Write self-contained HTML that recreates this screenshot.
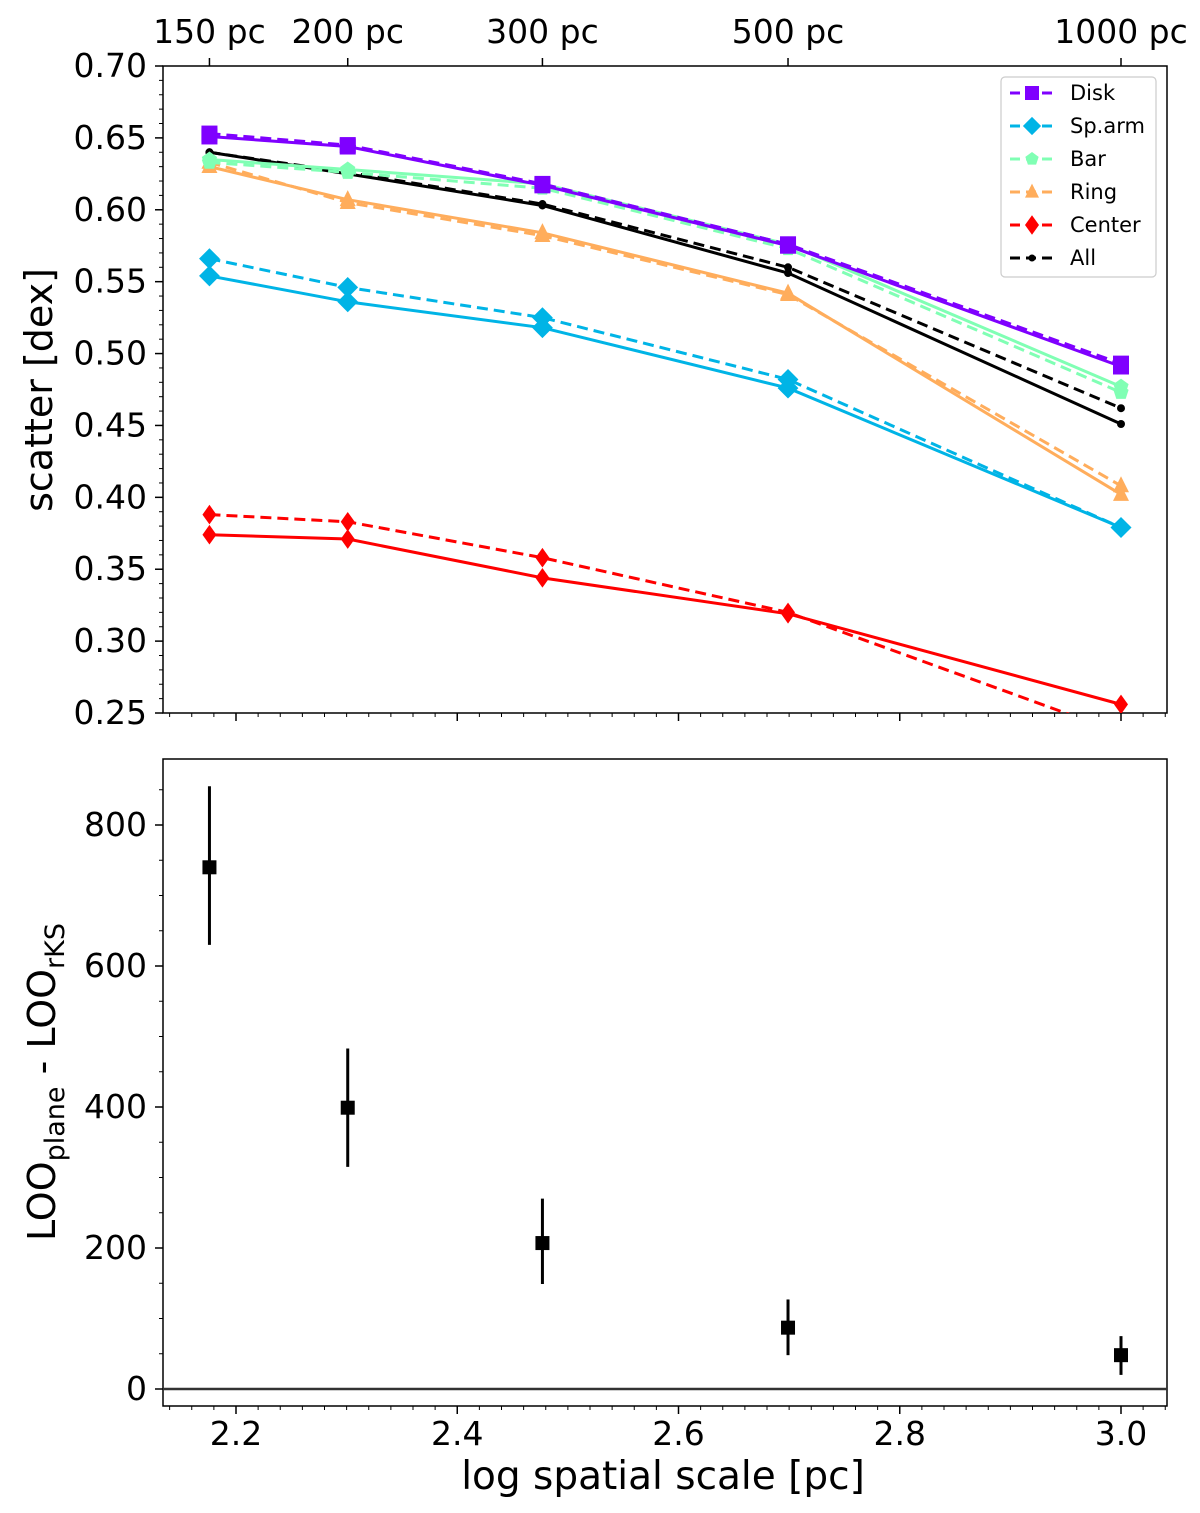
<!DOCTYPE html>
<html><head><meta charset="utf-8"><style>body{margin:0;background:#fff}svg{display:block}text{font-family:"DejaVu Sans","Liberation Sans",sans-serif;fill:#000}</style></head>
<body>
<svg id="c" width="1200" height="1513"></svg>
<script>
const xs=[2.176,2.301,2.477,2.699,3.0];
const topLabels=["150 pc","200 pc","300 pc","500 pc","1000 pc"];
const diskSolid=[0.651,0.644,0.617,0.575,0.491];
const diskDash=[0.653,0.645,0.618,0.576,0.493];
const armSolid=[0.554,0.536,0.518,0.476,0.379];
const armDash=[0.566,0.546,0.525,0.482,0.379];
const barSolid=[0.635,0.628,0.618,0.576,0.477];
const barDash=[0.633,0.626,0.615,0.573,0.473];
const ringSolid=[0.630,0.607,0.584,0.542,0.402];
const ringDash=[0.633,0.605,0.582,0.541,0.408];
const cenSolid=[0.374,0.371,0.344,0.319,0.256];
const cenDash=[0.388,0.383,0.358,0.320,0.236];
const allSolid=[0.640,0.625,0.603,0.556,0.451];
const allDash=[0.640,0.626,0.604,0.560,0.462];
const looVals=[740,399,207,87,48];
const looLo=[630,315,149,48,20];
const looHi=[855,483,270,127,75];
const yTicksTop=[0.25,0.30,0.35,0.40,0.45,0.50,0.55,0.60,0.65,0.70];
const yTicksBot=[0,200,400,600,800];
const xTicks=[2.2,2.4,2.6,2.8,3.0];

const NS="http://www.w3.org/2000/svg";
const svg=document.getElementById('c');
function el(t,a,p){const e=document.createElementNS(NS,t);for(const k in a)e.setAttribute(k,a[k]);(p||svg).appendChild(e);return e;}
const L=163,R=1167;
const X=v=>236+(v-2.2)*1106.25;
const YT=v=>66+(0.70-v)*1437.8;
const YB=v=>1389-v*0.705;

const defs=el('defs',{});
const cp=el('clipPath',{id:'cpt'},defs);el('rect',{x:L,y:66,width:R-L,height:647},cp);

const fr1=el('rect',{x:L,y:66,width:R-L,height:647,fill:'none',stroke:'#000','stroke-width':1.5});

const fr2=el('rect',{x:L,y:759,width:R-L,height:647,fill:'none',stroke:'#000','stroke-width':1.5});


yTicksTop.forEach(v=>{const y=YT(v);el('line',{x1:L-8,x2:L,y1:y,y2:y,stroke:'#000','stroke-width':1.5});
 const t=el('text',{x:L-16,y:y+11,'font-size':33,'text-anchor':'end'});t.textContent=v.toFixed(2);
 });
for(let v=0.26;v<0.70;v+=0.01){if(Math.abs(v*20-Math.round(v*20))<1e-6)continue;const y=YT(v);el('line',{x1:L-4,x2:L,y1:y,y2:y,stroke:'#000','stroke-width':1});}
xs.forEach((v,i)=>{const x=X(v);el('line',{x1:x,x2:x,y1:58,y2:66,stroke:'#000','stroke-width':1.5});
 const t=el('text',{x:x,y:43,'font-size':33,'text-anchor':'middle'});t.textContent=topLabels[i];
 });
function xTickMarks(yb){xTicks.forEach(v=>{const x=X(v);el('line',{x1:x,x2:x,y1:yb,y2:yb+8,stroke:'#000','stroke-width':1.5});});
 for(let v=2.14;v<3.05;v+=0.02){const r=Math.round(v*100);if(r%20==0)continue;const x=X(r/100);if(x<L||x>R)continue;el('line',{x1:x,x2:x,y1:yb,y2:yb+4,stroke:'#000','stroke-width':1});}}
xTickMarks(713);xTickMarks(1406);
xTicks.forEach(v=>{const t=el('text',{x:X(v),y:1445,'font-size':33,'text-anchor':'middle'});t.textContent=v.toFixed(1);
 });
yTicksBot.forEach(v=>{const y=YB(v);el('line',{x1:L-8,x2:L,y1:y,y2:y,stroke:'#000','stroke-width':1.5});
 const t=el('text',{x:L-16,y:y+11,'font-size':33,'text-anchor':'end'});t.textContent=v;
 });
for(let v=0;v<=880;v+=50){if(v%200==0)continue;const y=YB(v);el('line',{x1:L-4,x2:L,y1:y,y2:y,stroke:'#000','stroke-width':1});}

let t=el('text',{x:52,y:390,'font-size':38,'text-anchor':'middle',transform:'rotate(-90 52 390)'});t.textContent='scatter [dex]';

t=el('text',{x:663,y:1489,'font-size':39,'text-anchor':'middle'});t.textContent='log spatial scale [pc]';

t=el('text',{x:55,y:1082,'font-size':38,'text-anchor':'middle',transform:'rotate(-90 55 1082)'});
t.innerHTML='LOO<tspan font-size="27" dy="9">plane</tspan><tspan dy="-9"> - LOO</tspan><tspan font-size="27" dy="9">rKS</tspan>';


function marker(g,type,x,y,c,s){
 if(type=='s')el('rect',{x:x-s,y:y-s,width:2*s,height:2*s,fill:c},g);
 else if(type=='d')el('polygon',{points:`${x},${y-s*1.4} ${x+s},${y} ${x},${y+s*1.4} ${x-s},${y}`,fill:c},g);
 else if(type=='D')el('polygon',{points:`${x},${y-s*1.3} ${x+s*1.3},${y} ${x},${y+s*1.3} ${x-s*1.3},${y}`,fill:c},g);
 else if(type=='p'){let pts=[];for(let k=0;k<5;k++){const a=-Math.PI/2+k*2*Math.PI/5;pts.push((x+s*Math.cos(a))+','+(y+s*Math.sin(a)));}el('polygon',{points:pts.join(' '),fill:c},g);}
 else if(type=='^')el('polygon',{points:`${x},${y-s*1.2} ${x+s},${y+s*0.8} ${x-s},${y+s*0.8}`,fill:c},g);
 else if(type=='o')el('circle',{cx:x,cy:y,r:s,fill:c},g);
}
const series=[
 ['center',cenSolid,cenDash,'#ff0000','d',7],
 ['sparm',armSolid,armDash,'#00b4e6','D',8],
 ['all',allSolid,allDash,'#000000','o',4],
 ['ring',ringSolid,ringDash,'#ffad5c','^',8],
 ['bar',barSolid,barDash,'#80ffb4','p',8],
 ['disk',diskSolid,diskDash,'#7f00ff','s',8]];
const plot=el('g',{'clip-path':'url(#cpt)'});
series.forEach(([n,sv,dv,c,m,s])=>{
 const g=el('g',{},plot);
 el('polyline',{points:xs.map((v,i)=>X(v)+','+YT(sv[i])).join(' '),fill:'none',stroke:c,'stroke-width':3},g);
 el('polyline',{points:xs.map((v,i)=>X(v)+','+YT(dv[i])).join(' '),fill:'none',stroke:c,'stroke-width':3,'stroke-dasharray':'11,6'},g);
 xs.forEach((v,i)=>{marker(g,m,X(v),YT(sv[i]),c,s);marker(g,m,X(v),YT(dv[i]),c,s);});
});

const lg=el('g',{});
el('rect',{x:1001,y:77,width:155,height:200,rx:4,fill:'#fff',stroke:'#ccc','stroke-width':1.2},lg);
const names=['Disk','Sp.arm','Bar','Ring','Center','All'];
const legOrder=[5,1,4,3,0,2];
names.forEach((nm,i)=>{const sr=series[legOrder[i]];const y=93+i*33;
 const e=el('g',{},lg);
 el('line',{x1:1010,x2:1054,y1:y,y2:y,stroke:sr[3],'stroke-width':3,'stroke-dasharray':'10,6'},e);
 marker(e,sr[4],1032,y,sr[3],sr[4]=='o'?3.5:7);
 const tt=el('text',{x:1070,y:y+7,'font-size':21},e);tt.textContent=nm;});

const zl=el('line',{x1:L,x2:R,y1:YB(0),y2:YB(0),stroke:'#333','stroke-width':2.5});

xs.forEach((v,i)=>{const g=el('g',{});
 el('line',{x1:X(v),x2:X(v),y1:YB(looLo[i]),y2:YB(looHi[i]),stroke:'#000','stroke-width':3},g);
 marker(g,'s',X(v),YB(looVals[i]),'#000',7);});
</script>
</body></html>
